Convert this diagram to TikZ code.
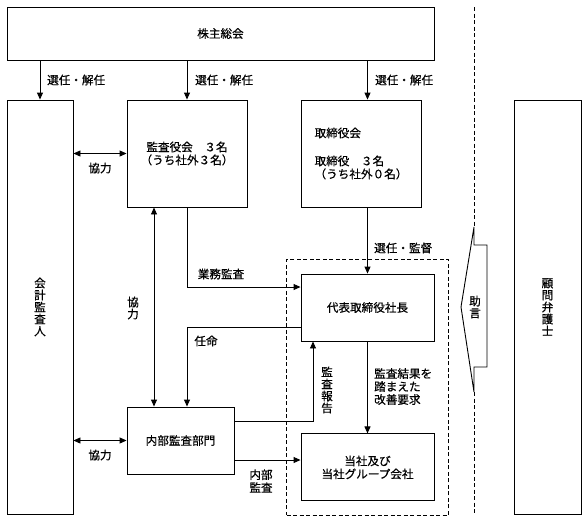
\documentclass[tikz,border=0pt]{standalone}
\usepackage{fontspec}
\setmainfont{Noto Sans CJK JP}[FakeBold=0.5]
\usetikzlibrary{arrows.meta,positioning,fit}

\begin{document}
\begin{tikzpicture}[
    x=1pt, y=-1pt,
    font=\fontsize{11.6}{13}\selectfont,
    box/.style={draw, line width=0.9pt, inner sep=2pt, align=center},
    vtext/.style={align=center, inner sep=1pt, font=\fontsize{11.6}{12}\selectfont},
    lbl/.style={inner sep=1pt, align=left},
    arr/.style={-{Triangle[length=7pt,width=6pt]}, line width=0.9pt},
    dbl/.style={{Triangle[length=7pt,width=6pt]}-{Triangle[length=7pt,width=6pt]}, line width=0.9pt},
    grp/.style={draw, line width=0.9pt, dash pattern=on 4pt off 2.5pt},
    advice/.style={draw, line width=0.9pt, fill=white}
]
\useasboundingbox (0,0) rectangle (587,520);

% boxes
\node[box, minimum width=427pt, minimum height=53pt] (gm) at (220.5,33.5) {株主総会};
\node[box, vtext, minimum width=66pt, minimum height=414pt] (acct) at (40,307) {会\\計\\監\\査\\人};
\node[box, minimum width=120pt, minimum height=107pt] (kansa) at (187,153.5) {監査役会　３名\\（うち社外３名）};
\node[box, align=left, minimum width=120pt, minimum height=107pt] (tori) at (361,153.5) {取締役会\\[15pt]取締役　３名\\（うち社外０名）};
\node[box, minimum width=133pt, minimum height=67pt] (daihyo) at (367.5,307.5) {代表取締役社長};
\node[box, minimum width=133pt, minimum height=67pt, below=92pt of daihyo] (tosha) {当社及び\\当社グループ会社};
\node[box, minimum width=107pt, minimum height=67pt] (naibu) at (180.5,440.5) {内部監査部門};
\node[box, vtext, minimum width=67pt, minimum height=414pt] (lawyer) at (547.5,307) {顧\\問\\弁\\護\\士};
\node[grp, fit=(daihyo)(tosha), inner sep=14pt] (group) {};

% advice arrow and dashed divider
\coordinate (sepT) at (474,7);
\coordinate (sepB) at (474,514);
\coordinate (advT) at (474,227);
\coordinate (advB) at (474,392);
\draw[grp] (sepT) -- (advT);
\draw[grp] (advB) -- (sepB);
\draw[advice] (advT) -- (474,245) -- (487,245) -- (487,367) -- (474,367) -- (advB) -- (461,307) -- cycle;
\node[vtext] (adv) at (475,307) {助\\言};

% election
\foreach \t in {acct,kansa,daihyo}{\draw[arr] (gm.south -| \t) -- (tori.north -| \t);}
\foreach \xx/\nm in {46/sela,194/selb,374/selc}{\node[lbl, anchor=west] (\nm) at (\xx,80) {選任・解任};}
\draw[arr] (tori.south -| daihyo) -- (daihyo.north);
\node[lbl, anchor=west] (seld) at (373,248) {選任・監督};

% cooperation
\draw[dbl] (acct.east |- kansa) -- (kansa.west);
\node[lbl] (coa) at (100,168) {協力};
\draw[dbl] ([xshift=-26.5pt]naibu.north) -- ([xshift=-26.5pt]naibu.north |- kansa.south);
\node[vtext] (cob) at (133,308) {協\\力};
\draw[dbl] (acct.east |- naibu) -- (naibu.west);
\node[lbl] (coc) at (100,455) {協力};

% audit lines
\draw[arr] (kansa.south) |- ([yshift=20.5pt]daihyo.west);
\node[lbl] (gyomu) at (221,274) {業務監査};
\draw[arr] ([yshift=-19.5pt]daihyo.west) -| (kansa.south |- naibu.north);
\node[lbl] (ninmei) at (206,341) {任命};
\draw[arr] ([yshift=19.5pt]naibu.east) -| ([xshift=-54.5pt]daihyo.south);
\node[vtext] (hokoku) at (327,390) {監\\査\\報\\告};
\draw[arr] ([yshift=-19.5pt]naibu.east) -- ([yshift=-19.5pt]naibu.east -| tosha.west);
\node[lbl, align=center] (naikan) at (261,481) {内部\\監査};
\draw[arr] (daihyo.south) -- (tosha.north);
\node[lbl, anchor=north west] (kaizen) at (373,367) {監査結果を\\踏まえた\\改善要求};
\end{tikzpicture}
\end{document}
